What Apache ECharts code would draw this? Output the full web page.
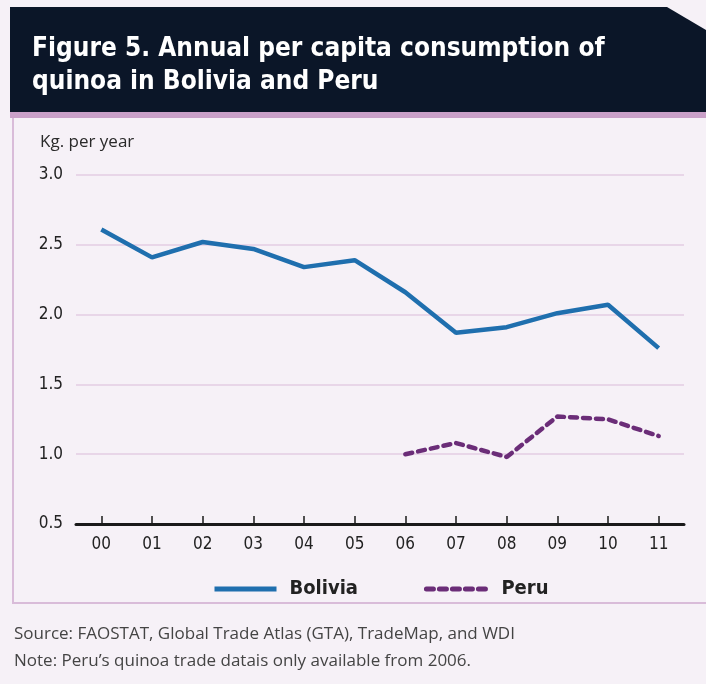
<!DOCTYPE html>
<html><head><meta charset="utf-8">
<script src="https://cdn.jsdelivr.net/npm/echarts@6/dist/echarts.min.js"></script>
<style>html,body{margin:0;padding:0;background:#f6f1f7;}#c{width:706px;height:684px;}</style>
</head><body><div id="c"></div>
<script>
const years = ['00','01','02','03','04','05','06','07','08','09','10','11'];
const bolivia = [2.61, 2.41, 2.52, 2.47, 2.34, 2.39, 2.16, 1.87, 1.91, 2.01, 2.07, 1.76];
const peru = [null, null, null, null, null, null, 1.00, 1.08, 0.98, 1.27, 1.25, 1.13];
const titleLines = ['Figure 5. Annual per capita consumption of', 'quinoa in Bolivia and Peru'];
const yName = 'Kg. per year';
const sourceText = 'Source: FAOSTAT, Global Trade Atlas (GTA), TradeMap, and WDI';
const noteText = 'Note: Peru\u2019s quinoa trade datais only available from 2006.';

const chart = echarts.init(document.getElementById('c'));
const condensed = '"DejaVu Sans Condensed", "Open Sans", sans-serif';
const body = '"Open Sans", sans-serif';
chart.setOption({
  backgroundColor: '#f6f1f7',
  animation: false,
  graphic: [
    {type:'rect', shape:{x:13,y:112,width:720,height:491}, style:{fill:'#f6f1f7', stroke:'#d9bcd9', lineWidth:2}, z:-10},
    {type:'polygon', shape:{points:[[10,7],[667,7],[706,30],[706,112],[10,112]]}, style:{fill:'#0b1628'}, z:-5},
    {type:'rect', shape:{x:10,y:112,width:700,height:6}, style:{fill:'#c9a0c8'}, z:-5},
    {type:'text', x:32, y:36, style:{text:titleLines[0], fill:'#ffffff', font:'bold 26px ' + condensed}},
    {type:'text', x:32, y:69, style:{text:titleLines[1], fill:'#ffffff', font:'bold 26px ' + condensed}},
    {type:'text', x:40, y:134, style:{text:yName, fill:'#2a2a2a', font:'17px ' + body}},
    {type:'text', x:14, y:626, style:{text:sourceText, fill:'#444', font:'17px ' + body}},
    {type:'text', x:14, y:653, style:{text:noteText, fill:'#444', font:'17px ' + body}}
  ],
  grid: {left:76, right:22, top:175, bottom:160},
  legend: {
    left: 207, top: 574, itemWidth: 62, itemHeight: 20, itemGap: 66,
    itemStyle: {opacity: 0},
    lineStyle: {width: 5},
    textStyle: {fontSize: 20, fontWeight: 'bold', color: '#222', fontFamily: condensed, padding:[0,0,0,8]},
    data: ['Bolivia', 'Peru']
  },
  xAxis: {
    type:'category', data: years, boundaryGap: true,
    axisLine: {lineStyle:{color:'#1a1a1a', width:3}},
    axisTick: {show:true, inside:true, length:8, alignWithLabel:true, lineStyle:{color:'#1a1a1a', width:1.5}},
    axisLabel: {fontSize:17, color:'#222', margin:12, fontFamily: condensed}
  },
  yAxis: {
    type:'value', min:0.5, max:3.0, interval:0.5,
    axisLine:{show:false}, axisTick:{show:false},
    axisLabel:{fontSize:17, color:'#222', margin:13, formatter: v => v.toFixed(1), fontFamily: condensed},
    splitLine:{lineStyle:{color:'#e3cde3', width:1.5}}
  },
  series: [
    {name:'Bolivia', type:'line', data: bolivia, showSymbol:false, symbol:'none',
     lineStyle:{color:'#1f6fae', width:4.5}, itemStyle:{color:'#1f6fae'}},
    {name:'Peru', type:'line', data: peru, showSymbol:false, symbol:'none', connectNulls:false,
     lineStyle:{color:'#6b2d78', width:4.5, type:[7,6], cap:'round'}, itemStyle:{color:'#6b2d78'}}
  ]
});
</script></body></html>
